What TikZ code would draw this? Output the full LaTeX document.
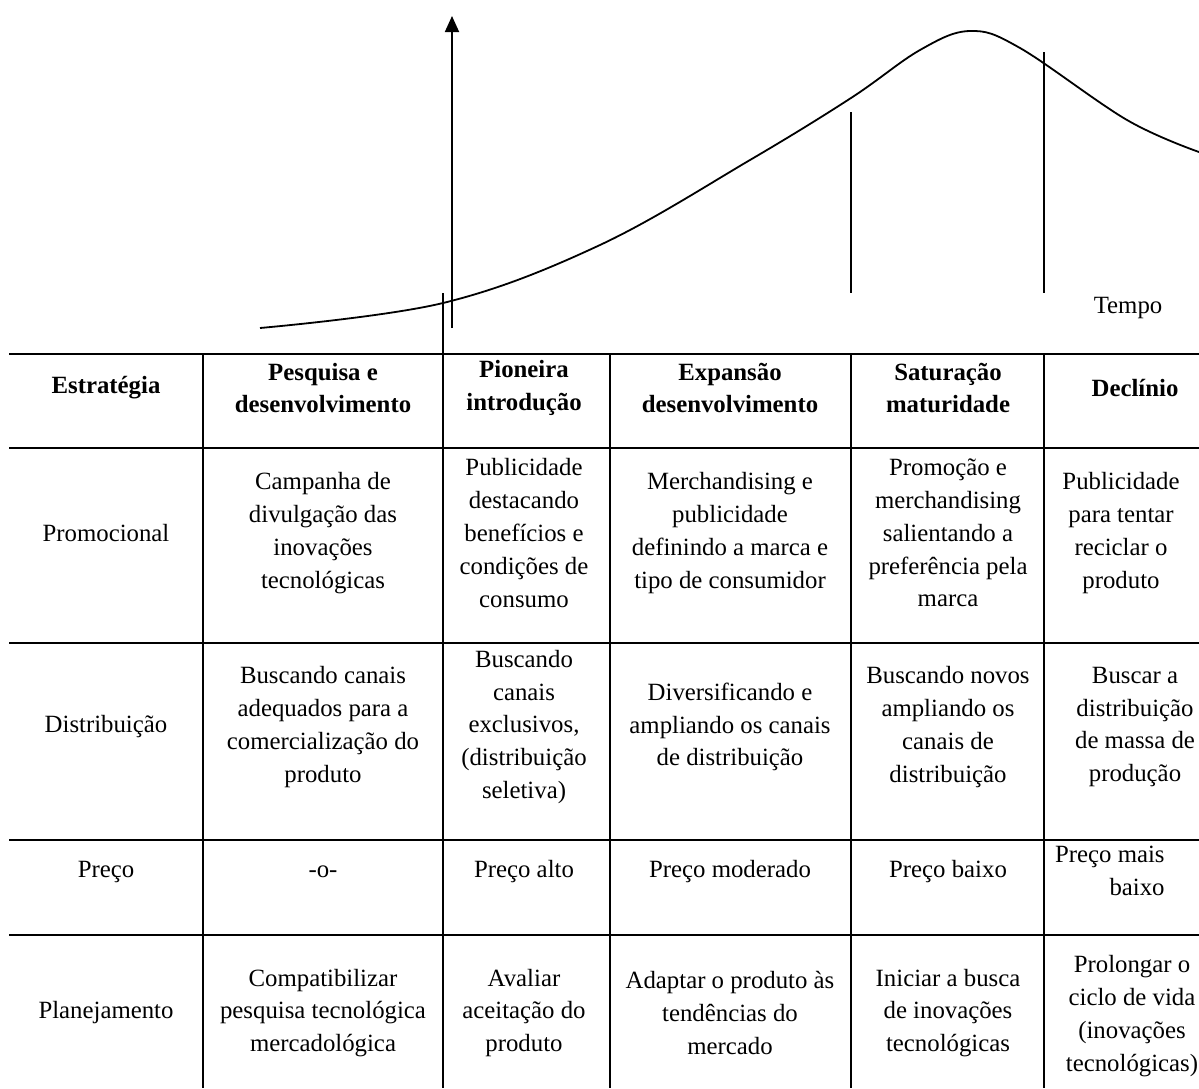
\documentclass[tikz,border=0pt]{standalone}
\usepackage{fontspec}
\setmainfont{Liberation Serif}
\usetikzlibrary{arrows.meta}

\begin{document}
\begin{tikzpicture}
[x=0.5pt,y=-0.5pt,
  lineDecorate/.style={-,line width=0.9pt},
  gridDecorate/.style={-,line width=0.8pt},
  axisDecorate/.style={-{Triangle[width=7pt,length=8pt]},line width=0.9pt},
  cellDecorate/.style={align=center,inner sep=0pt,font=\fontsize{12.4}{16.4}\selectfont},
  headDecorate/.style={cellDecorate,font=\fontsize{12.4}{16.4}\selectfont\bfseries}]
\useasboundingbox (0,0) rectangle (1199,1088);
%% curve and axis
\draw[lineDecorate] plot[smooth,tension=0.6] coordinates {
  (260,328) (443,303) (600,245) (750,160) (851,98) (920,50)
  (970,31) (1020,48) (1127,120) (1199,152)};
\coordinate (axisfoot) at (452,328);
\coordinate (axistip) at (452,16);
\draw[axisDecorate] (axisfoot) -- (axistip);
\foreach \cx/\ytop in {851/112, 1044/52}
{
  \draw[lineDecorate] (\cx,\ytop) -- (\cx,293);
}
\node (tempo) at (1128,308) [cellDecorate] {Tempo};
%% table lines
\foreach \ry in {354, 448, 643, 840, 935}
{
  \draw[gridDecorate] (9,\ry) -- (1199,\ry);
}
\foreach \cx/\ytop in {203/354, 443/293, 610/354, 851/354, 1044/354}
{
  \draw[gridDecorate] (\cx,\ytop) -- (\cx,1088);
}
%% header
\foreach \nodename/\x/\txt in {
  hEst/106/{Estratégia}, hPesq/323/{Pesquisa e\\desenvolvimento},
  hPion/524/{Pioneira\\introdução}, hExp/730/{Expansão\\desenvolvimento},
  hSat/948/{Saturação\\maturidade}, hDec/1135/{Declínio}}
{
  \node (\nodename) at (\x,388) [headDecorate] {\txt};
}
%% cells
\foreach \nodename/\x/\y/\txt in {
  promo/106/533/{Promocional},
  promoA/323/533/{Campanha de\\divulgação das\\inovações\\tecnológicas},
  promoB/524/533/{Publicidade\\destacando\\benefícios e\\condições de\\consumo},
  promoC/730/533/{Merchandising e\\publicidade\\definindo a marca e\\tipo de consumidor},
  promoD/948/533/{Promoção e\\merchandising\\salientando a\\preferência pela\\marca},
  promoE/1121/533/{Publicidade\\para tentar\\reciclar o\\produto},
  distr/106/727/{Distribuição},
  distrA/323/727/{Buscando canais\\adequados para a\\comercialização do\\produto},
  distrB/524/727/{Buscando\\canais\\exclusivos,\\(distribuição\\seletiva)},
  distrC/730/727/{Diversificando e\\ampliando os canais\\de distribuição},
  distrD/948/727/{Buscando novos\\ampliando os\\canais de\\distribuição},
  distrE/1135/727/{Buscar a\\distribuição\\de massa de\\produção},
  preco/106/872/{Preço},
  precoA/323/872/{-o-},
  precoB/524/872/{Preço alto},
  precoC/730/872/{Preço moderado},
  precoD/948/872/{Preço baixo},
  plan/106/1013/{Planejamento},
  planA/323/1013/{Compatibilizar\\pesquisa tecnológica\\mercadológica},
  planB/524/1013/{Avaliar\\aceitação do\\produto},
  planC/730/1013/{Adaptar o produto às\\tendências do\\mercado},
  planD/948/1013/{Iniciar a busca\\de inovações\\tecnológicas},
  planE/1132/1016/{Prolongar o\\ciclo de vida\\(inovações\\tecnológicas)}}
{
  \node (\nodename) at (\x,\y) [cellDecorate] {\txt};
}
\node (precoE) at (1165,871) [cellDecorate,anchor=east,align=right] {Preço mais\\baixo};
\end{tikzpicture}
\end{document}
